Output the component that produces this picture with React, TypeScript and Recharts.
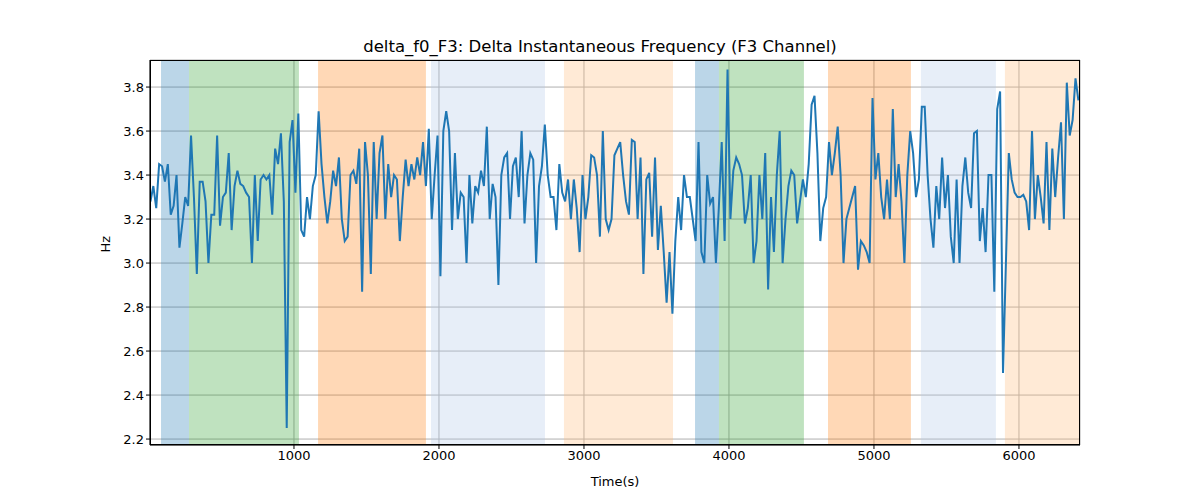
import React from "react";
import { LineChart, Line, XAxis, YAxis, CartesianGrid, ReferenceArea, Label } from "recharts";

const values: number[] = [
3.28,3.35,3.25,3.45,3.44,3.37,3.45,3.22,3.26,3.40,
3.07,3.18,3.30,3.26,3.58,3.30,2.95,3.37,3.37,3.28,
3.00,3.22,3.22,3.58,3.17,3.30,3.32,3.50,3.15,3.35,
3.42,3.36,3.35,3.32,3.30,3.00,3.40,3.10,3.38,3.40,
3.38,3.40,3.22,3.52,3.45,3.59,3.28,2.25,3.55,3.65,
3.32,3.68,3.15,3.12,3.30,3.20,3.35,3.40,3.69,3.45,
3.30,3.18,3.28,3.42,3.35,3.48,3.20,3.10,3.12,3.40,
3.42,3.36,3.52,2.87,3.55,3.40,2.95,3.55,3.20,3.50,
3.58,3.20,3.45,3.30,3.40,3.38,3.10,3.30,3.47,3.35,
3.45,3.38,3.48,3.40,3.55,3.35,3.61,3.20,3.40,3.58,
2.94,3.60,3.69,3.60,3.15,3.50,3.20,3.32,3.30,3.00,
3.40,3.18,3.35,3.32,3.42,3.35,3.62,3.20,3.36,3.30,
2.90,3.40,3.48,3.50,3.20,3.44,3.48,3.30,3.60,3.18,
3.40,3.50,3.47,3.00,3.35,3.44,3.63,3.40,3.30,3.30,
3.15,3.45,3.32,3.28,3.38,3.20,3.38,3.25,3.05,3.40,
3.20,3.30,3.49,3.48,3.40,3.12,3.60,3.20,3.15,3.20,
3.49,3.52,3.55,3.40,3.28,3.22,3.56,3.55,3.20,3.48,
2.95,3.38,3.41,3.12,3.48,3.06,3.26,3.05,2.82,3.05,
2.77,3.10,3.30,3.15,3.40,3.30,3.30,3.20,3.10,3.55,
3.05,3.00,3.40,3.27,3.30,3.00,3.25,3.55,3.10,3.88,
3.20,3.42,3.48,3.45,3.40,3.18,3.25,3.40,3.00,3.10,
3.40,3.20,3.50,2.88,3.30,3.05,3.40,3.60,3.00,3.20,
3.35,3.42,3.40,3.18,3.28,3.38,3.30,3.45,3.72,3.76,
3.50,3.10,3.25,3.30,3.55,3.40,3.50,3.62,3.40,3.00,
3.20,3.25,3.30,3.35,2.97,3.10,3.08,3.05,3.00,3.75,
3.38,3.50,3.30,3.20,3.38,3.20,3.70,3.30,3.45,3.28,
3.00,3.40,3.60,3.50,3.30,3.38,3.71,3.71,3.40,3.20,
3.07,3.35,3.20,3.48,3.25,3.40,3.12,3.00,3.38,3.00,
3.35,3.48,3.32,3.25,3.59,3.60,3.10,3.25,3.05,3.40,
3.40,2.87,3.70,3.78,2.50,3.00,3.50,3.38,3.32,3.30,
3.30,3.31,3.28,3.15,3.60,3.20,3.40,3.30,3.18,3.55,
3.15,3.52,3.30,3.48,3.64,3.20,3.82,3.58,3.65,3.84,3.74
];
const times: number[] = values.map((_, i) => 10 + 20 * i);
const data = values.map((v, i) => ({ t: times[i], v }));

const bandStarts = [83, 276, 1166, 1945, 2862, 3766, 3931, 4683, 5324, 5903];
const bandEnds = [276, 1034, 1910, 2731, 3614, 3931, 4517, 5255, 5841, 6421];
const bandColors = ["#1f77b4", "#2ca02c", "#ff7f0e", "#aec7e8", "#ffbb78", "#1f77b4", "#2ca02c", "#ff7f0e", "#aec7e8", "#ffbb78"];
const xTicks = [1000, 2000, 3000, 4000, 5000, 6000];
const yTicks = [2.2, 2.4, 2.6, 2.8, 3.0, 3.2, 3.4, 3.6, 3.8];

export default function App() {
  const font = "DejaVu Sans";
  return (
    <div style={{ position: "absolute", left: 0, top: 0, width: 1200, height: 500, background: "#fff", fontFamily: font }}>
      <div style={{ position: "absolute", top: 37, width: 1200, textAlign: "center", fontSize: 16.5, color: "#000" }}>
        delta_f0_F3: Delta Instantaneous Frequency (F3 Channel)
      </div>
      <LineChart width={1200} height={500} data={data} margin={{ top: 60, right: 120, bottom: 0, left: 100 }}>
        {bandStarts.map((s, i) => (
          <ReferenceArea key={i} x1={s} x2={bandEnds[i]} fill={bandColors[i]} fillOpacity={0.3} stroke="none" ifOverflow="hidden" />
        ))}
        <CartesianGrid stroke="#b0b0b0" strokeWidth={1} />
        <XAxis dataKey="t" type="number" domain={[7, 6421]} ticks={xTicks} allowDataOverflow height={55}
          tick={{ fill: "#000", fontSize: 13, fontFamily: font }} tickLine={{ stroke: "#000" }} axisLine={{ stroke: "#000" }} tickSize={4}>
          <Label value="Time(s)" position="insideBottom" offset={14} style={{ fill: "#000", fontSize: 13, fontFamily: font }} />
        </XAxis>
        <YAxis type="number" domain={[2.173, 3.923]} ticks={yTicks} allowDataOverflow width={50}
          tickFormatter={(v: number) => v.toFixed(1)}
          tick={{ fill: "#000", fontSize: 13, fontFamily: font }} tickLine={{ stroke: "#000" }} axisLine={{ stroke: "#000" }} tickSize={4}>
          <Label value="Hz" angle={-90} position="insideLeft" offset={5} style={{ fill: "#000", fontSize: 13, fontFamily: font }} />
        </YAxis>
        <Line dataKey="v" stroke="#1f77b4" strokeWidth={2} dot={false} isAnimationActive={false} />
      </LineChart>
      <div style={{ position: "absolute", left: 150, top: 60, width: 930, height: 385, border: "1px solid #000", boxSizing: "border-box", pointerEvents: "none" }} />
    </div>
  );
}
